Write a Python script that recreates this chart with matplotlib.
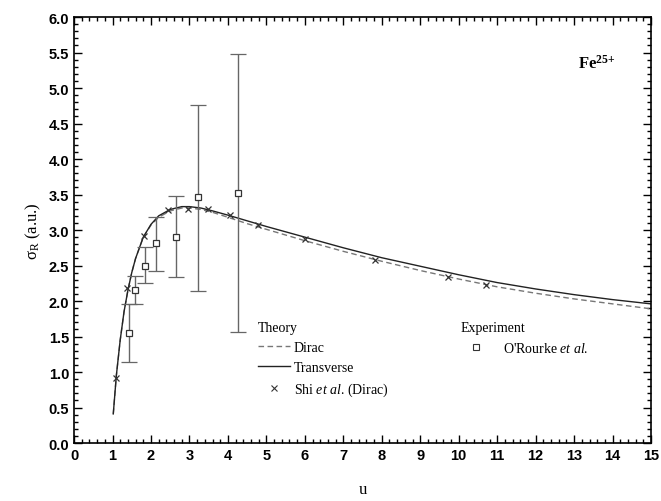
import numpy as np
import matplotlib.pyplot as plt
from matplotlib.lines import Line2D
from matplotlib.ticker import MultipleLocator

plt.rcParams["mathtext.fontset"] = "custom"
plt.rcParams["mathtext.rm"] = "Liberation Serif"
plt.rcParams["mathtext.it"] = "Liberation Serif:italic"
plt.rcParams["mathtext.bf"] = "Liberation Serif:bold"

# Theory: transverse (solid) and Dirac (dashed) curves
u_theory = [1.02, 1.1, 1.2, 1.3, 1.4, 1.5, 1.6, 1.8, 2.0, 2.2, 2.5, 2.8, 3.0,
            3.3, 3.6, 4.0, 4.5, 5.0, 6.0, 7.0, 8.0, 9.0, 10.0, 11.0, 12.0,
            13.0, 14.0, 15.0]
sigma_transverse = [0.41, 0.95, 1.45, 1.85, 2.15, 2.40, 2.60, 2.90, 3.08, 3.20,
                    3.29, 3.33, 3.33, 3.31, 3.27, 3.21, 3.13, 3.05, 2.90, 2.75,
                    2.61, 2.49, 2.37, 2.26, 2.17, 2.09, 2.02, 1.96]
sigma_dirac = [0.41, 0.95, 1.45, 1.85, 2.15, 2.40, 2.60, 2.90, 3.07, 3.18,
               3.27, 3.31, 3.31, 3.29, 3.25, 3.18, 3.09, 3.01, 2.85, 2.70,
               2.56, 2.43, 2.31, 2.20, 2.11, 2.03, 1.96, 1.89]

# Shi et al. (Dirac)
u_shi = [1.08, 1.37, 1.82, 2.43, 2.95, 3.49, 4.05, 4.77, 6.0, 7.82, 9.73, 10.71]
sigma_shi = [0.91, 2.19, 2.91, 3.28, 3.30, 3.29, 3.21, 3.07, 2.87, 2.58, 2.34, 2.22]

# O'Rourke et al. experiment with error bars
u_exp = [1.44, 1.59, 1.85, 2.12, 2.65, 3.21, 4.25]
sigma_exp = [1.55, 2.16, 2.50, 2.82, 2.90, 3.46, 3.52]
err_low = [1.14, 1.96, 2.25, 2.42, 2.34, 2.14, 1.56]
err_high = [1.96, 2.35, 2.76, 3.18, 3.48, 4.76, 5.48]

serif = ["Liberation Serif", "DejaVu Serif"]
sans = ["Liberation Sans", "DejaVu Sans"]

fig = plt.figure(figsize=(6.61, 5.02), dpi=100)
ax = fig.add_axes([0.112, 0.1155, 0.873, 0.8485])

ax.plot(u_theory, sigma_dirac, color="#777777", lw=1.0, ls=(0, (4, 2.5)))
ax.plot(u_theory, sigma_transverse, color="#222222", lw=1.0)

yerr = [np.array(sigma_exp) - np.array(err_low),
        np.array(err_high) - np.array(sigma_exp)]
ax.errorbar(u_exp, sigma_exp, yerr=yerr, fmt="s", mfc="white", mec="#333333",
            ms=4.5, mew=0.9, ecolor="#666666", elinewidth=1.0, capsize=6,
            capthick=1.0, zorder=3)
ax.plot(u_shi, sigma_shi, "x", color="#333333", ms=5, mew=0.9, zorder=4)

ax.set_xlim(0, 15)
ax.set_ylim(0, 6)
ax.xaxis.set_major_locator(MultipleLocator(1))
ax.xaxis.set_minor_locator(MultipleLocator(0.2))
ax.yaxis.set_major_locator(MultipleLocator(0.5))
ax.yaxis.set_minor_locator(MultipleLocator(0.1))
ax.yaxis.set_major_formatter(plt.FormatStrFormatter("%.1f"))
ax.tick_params(which="both", direction="in", top=True, right=True, width=1.0)
ax.tick_params(which="major", length=6)
ax.tick_params(which="minor", length=3)
for lab in ax.get_xticklabels() + ax.get_yticklabels():
    lab.set_fontfamily(sans)
    lab.set_fontweight("bold")
    lab.set_fontsize(10.5)
for s in ax.spines.values():
    s.set_linewidth(1.2)

ax.set_xlabel("u", family=serif, fontsize=12, labelpad=14)
ax.set_ylabel(r"σ$_{\rm R}$ (a.u.)", family=serif, fontsize=12)

ax.text(0.873, 0.893, r"Fe$^{\mathbf{25{+}}}$", transform=ax.transAxes,
        family=serif, fontsize=12, fontweight="bold", ha="left", va="center")

h_theory = [
    Line2D([], [], color="#777777", lw=1.0, ls=(0, (4, 2.5))),
    Line2D([], [], color="#222222", lw=1.0),
    Line2D([], [], ls="none", marker="x", color="#333333", ms=4, mew=0.8),
]
leg1 = ax.legend(h_theory, ["Dirac", "Transverse", r"Shi $\mathit{et\ al.}\,$(Dirac)"],
                 title="Theory", loc="upper left", bbox_to_anchor=(0.309, 0.30),
                 frameon=False, prop={"family": serif, "size": 10},
                 handlelength=2.3, handletextpad=0.3, labelspacing=0.5,
                 borderaxespad=0)
leg1.get_title().set_fontfamily(serif)
leg1.get_title().set_fontsize(10)
leg1._legend_box.align = "left"
ax.add_artist(leg1)

h_exp = [Line2D([], [], ls="none", marker="s", mfc="white", mec="#333333",
                ms=4, mew=0.8)]
leg2 = ax.legend(h_exp, [r"O'Rourke $\mathit{et\ al.}$"], title="Experiment",
                 loc="upper left", bbox_to_anchor=(0.66, 0.30), frameon=False,
                 prop={"family": serif, "size": 10}, handlelength=2.3,
                 handletextpad=0.8, labelspacing=0.5, borderaxespad=0)
leg2.get_title().set_fontfamily(serif)
leg2.get_title().set_fontsize(10)
leg2._legend_box.align = "left"

plt.savefig("out.png", dpi=100)
